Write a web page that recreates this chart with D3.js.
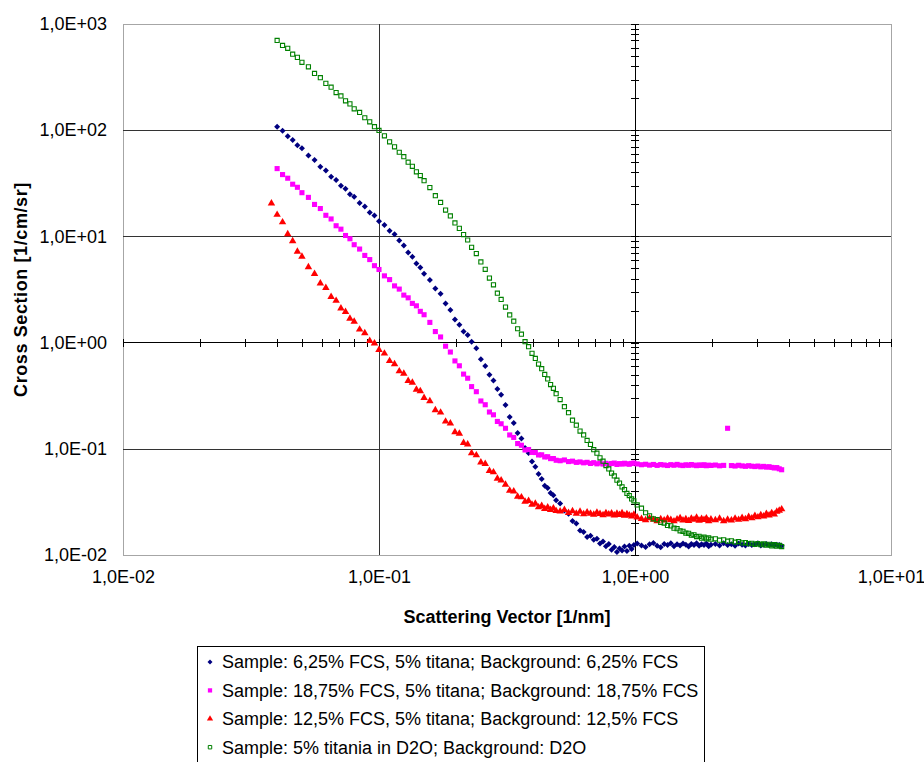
<!DOCTYPE html>
<html>
<head>
<meta charset="utf-8">
<script src="https://cdn.jsdelivr.net/npm/d3@7"></script>
<style>
  body { margin: 0; background: #fff; }
  text { font-family: Arial, "Liberation Sans", sans-serif; fill: #000; }
  .crisp line, .crisp rect { shape-rendering: crispEdges; }
</style>
</head>
<body>
<div id="chart"></div>
<script>
// scattering vector q [1/nm], shared by all four measurements
const q = [0.038, 0.040, 0.042, 0.044, 0.046, 0.048, 0.050, 0.053, 0.056, 0.059, 0.062, 0.065, 0.068, 0.071, 0.074, 0.077, 0.080, 0.084, 0.088, 0.092, 0.096, 0.100,
  0.105, 0.110, 0.115, 0.120, 0.125, 0.130, 0.135, 0.140, 0.145, 0.150,
  0.158, 0.166, 0.174, 0.182, 0.190, 0.198, 0.206, 0.214, 0.222, 0.230, 0.240, 0.250, 0.260, 0.270, 0.280, 0.290, 0.300,
  0.312, 0.324, 0.336, 0.348, 0.360, 0.372, 0.384, 0.396, 0.408, 0.420, 0.432, 0.444, 0.456, 0.468, 0.480, 0.492,
  0.51, 0.53, 0.55, 0.57, 0.59, 0.61, 0.63, 0.65, 0.67, 0.69, 0.71, 0.73, 0.75, 0.77, 0.79, 0.81, 0.83, 0.85, 0.87, 0.89, 0.91, 0.93, 0.95, 0.97, 0.99,
  1.02, 1.06, 1.10, 1.14, 1.18, 1.22, 1.26, 1.30, 1.34, 1.38, 1.42, 1.46, 1.50, 1.54, 1.58, 1.62, 1.66, 1.70, 1.74, 1.78, 1.82, 1.86, 1.90, 1.94, 1.98,
  2.06, 2.14, 2.22, 2.30, 2.38, 2.46, 2.54, 2.62, 2.70, 2.78, 2.86, 2.94, 3.02, 3.10, 3.18, 3.26, 3.34, 3.42, 3.50, 3.58, 3.66, 3.74];

// cross section [1/cm/sr]
const fcs625 = [null, 108, 99.0, 87.5, 81.0, 72.0, 67.5, 57.8, 52.5, 45.2, 41.8, 36.5, 33.9, 30.0, 28.1, 25.0, 23.6, 20.6, 19.1, 16.8, 15.7, 13.9,
  12.8, 11.3, 10.5, 9.15, 8.20, 7.05, 6.42, 5.55, 5.10, 4.45,
  3.88, 3.24, 2.88, 2.33, 2.03, 1.65, 1.47, 1.27, 1.18, 1.02, 0.885, 0.698, 0.602, 0.498, 0.440, 0.365, 0.322,
  0.258, 0.199, 0.175, 0.141, 0.125, 0.102, 0.0915, 0.0760, 0.0678, 0.0578, 0.0520, 0.0450, 0.0428, 0.0383, 0.0366, 0.0328,
  0.0305, 0.0262, 0.0244, 0.0209, 0.0198, 0.0170, 0.0165, 0.0148, 0.0152, 0.0139, 0.0142, 0.0128, 0.0134, 0.0121, 0.0127, 0.0112, 0.0119, 0.0107, 0.0115, 0.0110, 0.0120, 0.0109, 0.0122, 0.0114, 0.0124,
  0.0128, 0.0123, 0.0119, 0.0126, 0.0130, 0.0122, 0.0118, 0.0127, 0.0124, 0.0129, 0.0121, 0.0126, 0.0123, 0.0128, 0.0125, 0.0120, 0.0127, 0.0124, 0.0129, 0.0122, 0.0126, 0.0124, 0.0128, 0.0121, 0.0125,
  0.0127, 0.0123, 0.0129, 0.0124, 0.0126, 0.0122, 0.0128, 0.0125, 0.0123, 0.0127, 0.0124, 0.0126, 0.0129, 0.0123, 0.0125, 0.0127, 0.0124, 0.0126, 0.0123, 0.0125, 0.0124, 0.0122];

const fcs1875 = [null, 43.5, 38.2, 35.3, 31.0, 29.0, 25.8, 23.3, 20.0, 18.3, 15.8, 14.6, 12.6, 11.7, 10.2, 9.50, 8.35, 7.60, 6.62, 6.05, 5.30, 4.88,
  4.25, 3.92, 3.42, 3.19, 2.80, 2.64, 2.34, 2.22, 1.97, 1.83,
  1.55, 1.27, 1.13, 0.925, 0.815, 0.672, 0.605, 0.505, 0.462, 0.385, 0.345, 0.282, 0.260, 0.222, 0.209, 0.181, 0.172,
  0.156, 0.135, 0.128, 0.112, 0.108, 0.0975, 0.0985, 0.0925, 0.0922, 0.0875, 0.0878, 0.0838, 0.0842, 0.0808, 0.0810, 0.0780,
  0.0772, 0.0785, 0.0758, 0.0765, 0.0745, 0.0752, 0.0738, 0.0746, 0.0728, 0.0740, 0.0722, 0.0735, 0.0718, 0.0730, 0.0715, 0.0727, 0.0734, 0.0712, 0.0725, 0.0718, 0.0731, 0.0722, 0.0715, 0.0728, 0.0735,
  0.0720, 0.0708, 0.0715, 0.0702, 0.0712, 0.0698, 0.0710, 0.0704, 0.0696, 0.0709, 0.0700, 0.0713, 0.0701, 0.0695, 0.0707, 0.0699, 0.0711, 0.0702, 0.0694, 0.0705, 0.0698, 0.0708, 0.0693, 0.0701, 0.0697,
  0.0703, 0.0692, 0.0698, 0.156, 0.0695, 0.0688, 0.0699, 0.0690, 0.0684, 0.0693, 0.0686, 0.0680, 0.0688, 0.0676, 0.0683, 0.0672, 0.0678, 0.0668, 0.0660, 0.0665, 0.0648, 0.0635];

const fcs125 = [20.5, 16.0, 13.6, 10.5, 9.05, 7.20, 6.45, 5.15, 4.45, 3.62, 3.28, 2.70, 2.48, 2.10, 1.95, 1.68, 1.58, 1.33, 1.23, 1.04, 0.985, 0.855,
  0.790, 0.672, 0.628, 0.538, 0.510, 0.436, 0.420, 0.361, 0.349, 0.302,
  0.281, 0.232, 0.220, 0.181, 0.174, 0.144, 0.139, 0.114, 0.110, 0.0910, 0.0870, 0.0745, 0.0722, 0.0620, 0.0602, 0.0525, 0.0505,
  0.0460, 0.0405, 0.0398, 0.0355, 0.0350, 0.0318, 0.0324, 0.0299, 0.0305, 0.0282, 0.0290, 0.0272, 0.0281, 0.0266, 0.0276, 0.0260,
  0.0258, 0.0266, 0.0250, 0.0259, 0.0245, 0.0256, 0.0243, 0.0252, 0.0246, 0.0240, 0.0251, 0.0244, 0.0238, 0.0249, 0.0242, 0.0247, 0.0236, 0.0245, 0.0239, 0.0248, 0.0235, 0.0243, 0.0237, 0.0231, 0.0240,
  0.0226, 0.0219, 0.0213, 0.0222, 0.0215, 0.0209, 0.0218, 0.0212, 0.0220, 0.0214, 0.0208, 0.0217, 0.0223, 0.0212, 0.0218, 0.0210, 0.0221, 0.0215, 0.0225, 0.0211, 0.0219, 0.0214, 0.0222, 0.0209, 0.0217,
  0.0213, 0.0220, 0.0209, 0.0216, 0.0212, 0.0221, 0.0215, 0.0224, 0.0218, 0.0229, 0.0222, 0.0234, 0.0227, 0.0238, 0.0231, 0.0244, 0.0236, 0.0249, 0.0242, 0.0256, 0.0262, 0.0270];

const d2o = [null, 700, 628, 590, 520, 485, 436, 395, 342, 312, 276, 254, 226, 210, 189, 177, 159, 147, 131, 120, 108, 99.5,
  88.5, 77.8, 69.8, 62.0, 56.3, 50.0, 45.7, 40.6, 37.4, 33.5,
  28.8, 24.2, 20.9, 17.7, 15.6, 13.4, 11.9, 10.4, 9.25, 7.90, 6.90, 5.75, 4.90, 4.05, 3.50, 2.92, 2.55,
  2.16, 1.82, 1.59, 1.35, 1.20, 1.02, 0.915, 0.792, 0.710, 0.628, 0.568, 0.501, 0.455, 0.403, 0.371, 0.330,
  0.291, 0.249, 0.219, 0.186, 0.167, 0.147, 0.135, 0.120, 0.110, 0.0980, 0.0910, 0.0822, 0.0765, 0.0695, 0.0646, 0.0590, 0.0555, 0.0506, 0.0475, 0.0438, 0.0413, 0.0380, 0.0363, 0.0337, 0.0324,
  0.0296, 0.0276, 0.0250, 0.0234, 0.0219, 0.0215, 0.0203, 0.0200, 0.0190, 0.0188, 0.0179, 0.0177, 0.0169, 0.0167, 0.0161, 0.0160, 0.0154, 0.0155, 0.0149, 0.0150, 0.0144, 0.0147, 0.0142, 0.0145, 0.0141,
  0.0142, 0.0138, 0.0139, 0.0135, 0.0136, 0.0132, 0.0134, 0.0130, 0.0131, 0.0128, 0.0129, 0.0126, 0.0128, 0.0125, 0.0127, 0.0124, 0.0126, 0.0122, 0.0125, 0.0121, 0.0123, 0.0120];

const seriesNames = [
  'Sample: 6,25% FCS, 5% titana; Background: 6,25% FCS',
  'Sample: 18,75% FCS, 5% titana; Background: 18,75% FCS',
  'Sample: 12,5% FCS, 5% titana; Background: 12,5% FCS',
  'Sample: 5% titania in D2O; Background: D2O'
];
const seriesValues = [fcs625, fcs1875, fcs125, d2o];

const xMajor = [0.01, 0.1, 1, 10];
const yMajor = [0.01, 0.1, 1, 10, 100, 1000];

// Excel style "1,0E+03"
function sciLabel(v) {
  const e = Math.round(Math.log10(v));
  return '1,0E' + (e < 0 ? '-' : '+') + String(Math.abs(e)).padStart(2, '0');
}

const margin = { top: 24, right: 33, bottom: 207, left: 123 },
  width = 768,
  height = 531;

const svg = d3
  .select('#chart')
  .append('svg')
  .attr('width', 924)
  .attr('height', 762);

const g = svg.append('g').attr('transform', `translate(${margin.left}, ${margin.top})`);

const x = d3.scaleLog().domain([0.01, 10]).range([0, width]);
const y = d3.scaleLog().domain([0.01, 1000]).range([height, 0]);

// plot border
g.append('rect')
  .attr('class', 'crisp')
  .attr('x', 0.5)
  .attr('y', 0.5)
  .attr('width', width)
  .attr('height', height)
  .attr('fill', 'none')
  .attr('stroke', '#a6a6a6')
  .style('shape-rendering', 'crispEdges');

// horizontal grid
g.append('g')
  .attr('class', 'crisp')
  .call(d3.axisLeft(y).tickValues([0.1, 10, 100]).tickSize(-width).tickFormat(''))
  .call((s) => s.select('.domain').remove())
  .call((s) => s.selectAll('line').attr('stroke', '#333'));

// vertical grid at 0.1
g.append('g')
  .attr('class', 'crisp')
  .attr('transform', `translate(0, ${height})`)
  .call(d3.axisBottom(x).tickValues([0.1]).tickSize(-height).tickFormat(''))
  .call((s) => s.select('.domain').remove())
  .call((s) => s.selectAll('line').attr('stroke', '#333'));

// x axis crossing at y = 1, with minor ticks
g.append('g')
  .attr('class', 'crisp')
  .attr('transform', `translate(0, ${y(1) - 4})`)
  .call(d3.axisBottom(x).tickValues(x.ticks()).tickSize(8).tickFormat(''))
  .call((s) => s.select('.domain').remove())
  .call((s) => s.selectAll('line').attr('stroke', '#000'));
g.append('line')
  .attr('x1', 0)
  .attr('x2', width)
  .attr('y1', y(1))
  .attr('y2', y(1))
  .attr('stroke', '#000')
  .style('shape-rendering', 'crispEdges');

// y axis crossing at x = 1, with minor ticks
g.append('g')
  .attr('class', 'crisp')
  .attr('transform', `translate(${x(1) - 4}, 0)`)
  .call(d3.axisRight(y).tickValues(y.ticks()).tickSize(8).tickFormat(''))
  .call((s) => s.select('.domain').remove())
  .call((s) => s.selectAll('line').attr('stroke', '#000'));
g.append('line')
  .attr('x1', x(1))
  .attr('x2', x(1))
  .attr('y1', 0)
  .attr('y2', height)
  .attr('stroke', '#000')
  .style('shape-rendering', 'crispEdges');

// tick labels
g.append('g')
  .call(d3.axisLeft(y).tickValues(yMajor).tickFormat(sciLabel).tickSize(0).tickPadding(16))
  .call((s) => s.select('.domain').remove())
  .call((s) => s.selectAll('text').style('font-size', '18px').attr('fill', '#000'));

g.append('g')
  .attr('transform', `translate(0, ${height})`)
  .call(d3.axisBottom(x).tickValues(xMajor).tickFormat(sciLabel).tickSize(0).tickPadding(15))
  .call((s) => s.select('.domain').remove())
  .call((s) => s.selectAll('text').style('font-size', '18px').attr('fill', '#000'));

// axis titles
svg
  .append('text')
  .attr('x', margin.left + width / 2)
  .attr('y', 623)
  .attr('text-anchor', 'middle')
  .style('font-size', '18px')
  .style('font-weight', 'bold')
  .text('Scattering Vector [1/nm]');

svg
  .append('text')
  .attr('transform', `translate(27, ${margin.top + height / 2}) rotate(-90)`)
  .attr('text-anchor', 'middle')
  .style('font-size', '18px')
  .style('font-weight', 'bold')
  .style('letter-spacing', '0.6px')
  .text('Cross Section [1/cm/sr]');

// marker styles per series
const styles = [
  { type: d3.symbolSquare, size: 18, rotate: 45, fill: '#000080', stroke: 'none' },
  { type: d3.symbolSquare, size: 26, rotate: 0, fill: '#ff00ff', stroke: 'none' },
  { type: d3.symbolTriangle, size: 24, rotate: 0, fill: '#ff0000', stroke: 'none' },
  { type: d3.symbolSquare, size: 17, rotate: 0, fill: 'none', stroke: '#008000' },
];

seriesValues.forEach((vals, si) => {
  const st = styles[si];
  const pts = q.map((qv, i) => ({ q: qv, v: vals[i] })).filter((d) => d.v != null);
  g.append('g')
    .selectAll('path')
    .data(pts)
    .enter()
    .append('path')
    .attr('d', d3.symbol().type(st.type).size(st.size))
    .attr('transform', (d) => `translate(${x(d.q)}, ${y(d.v)}) rotate(${st.rotate})`)
    .attr('fill', st.fill)
    .attr('stroke', st.stroke)
    .attr('stroke-width', 1.1);
});

// legend
const legend = svg.append('g').attr('transform', 'translate(197, 646)');
legend
  .append('rect')
  .attr('x', 0.5)
  .attr('y', 0.5)
  .attr('width', 507)
  .attr('height', 140)
  .attr('fill', '#fff')
  .attr('stroke', '#000')
  .style('shape-rendering', 'crispEdges');

seriesNames.forEach((name, i) => {
  const st = styles[i];
  const cy = 16 + i * 28.4;
  legend
    .append('path')
    .attr('d', d3.symbol().type(st.type).size(st.size * 0.7))
    .attr('transform', `translate(13, ${cy}) rotate(${st.rotate})`)
    .attr('fill', st.fill)
    .attr('stroke', st.stroke);
  legend
    .append('text')
    .attr('x', 25)
    .attr('y', cy)
    .attr('dy', '0.35em')
    .style('font-size', '18px')
    .text(name);
});
</script>
</body>
</html>
